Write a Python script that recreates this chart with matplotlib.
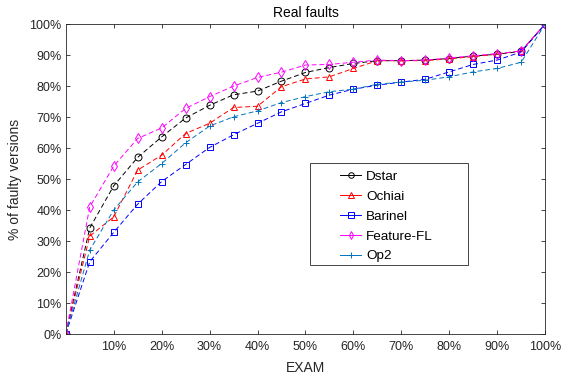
import matplotlib.pyplot as plt
from matplotlib.patches import Rectangle
from matplotlib.ticker import FuncFormatter

# EXAM levels (percent of code examined)
exam = [0, 5, 10, 15, 20, 25, 30, 35, 40, 45, 50, 55, 60, 65, 70, 75, 80, 85, 90, 95, 100]

# % of faulty versions located
dstar = [0, 34.2, 47.8, 57.0, 63.6, 69.7, 73.8, 77.2, 78.4, 81.6, 84.4,
         86.0, 87.3, 88.2, 88.2, 88.4, 88.9, 89.7, 90.3, 91.2, 100]
ochiai = [0, 31.6, 37.8, 52.9, 57.7, 64.7, 68.0, 73.1, 73.5, 79.8, 82.3,
          83.0, 85.7, 88.2, 88.2, 88.2, 88.8, 89.5, 90.3, 91.4, 100]
barinel = [0, 23.3, 32.8, 41.9, 49.2, 54.7, 60.2, 64.3, 68.0, 71.7, 74.4,
           77.1, 79.0, 80.3, 81.3, 82.2, 84.6, 87.0, 88.4, 91.0, 100]
feature_fl = [0, 41.0, 54.2, 63.1, 66.5, 72.8, 76.6, 80.0, 82.8, 84.5, 86.8,
              87.0, 87.7, 88.4, 88.2, 88.4, 89.1, 89.8, 90.5, 91.3, 100]
op2 = [0, 27.1, 40.0, 49.1, 55.0, 61.7, 67.1, 70.1, 72.0, 74.7, 76.6,
       78.2, 79.0, 80.6, 81.3, 81.9, 83.0, 84.6, 85.7, 87.7, 100]

series = [
    ('Dstar', dstar, 'black', 'o'),
    ('Ochiai', ochiai, 'red', '^'),
    ('Barinel', barinel, 'blue', 's'),
    ('Feature-FL', feature_fl, 'magenta', 'd'),
    ('Op2', op2, '#0072BD', '+'),
]

plt.rcParams['font.family'] = 'Liberation Sans'
plt.rcParams['font.size'] = 9

fig = plt.figure(figsize=(5.62, 3.77), dpi=100)
ax = fig.add_axes([0.117, 0.114, 0.853, 0.822])

for name, vals, color, marker in series:
    ax.plot(exam, vals, linestyle='--', dashes=(5, 3), color=color, marker=marker,
            markersize=5, markerfacecolor='none', markeredgewidth=0.7,
            linewidth=0.7, label=name)

ax.set_xlim(0, 100)
ax.set_ylim(0, 100)
ax.set_xticks(range(10, 101, 10))
ax.set_yticks(range(0, 101, 10))
pct = FuncFormatter(lambda v, p: f'{int(v)}%')
ax.xaxis.set_major_formatter(pct)
ax.yaxis.set_major_formatter(pct)
ax.tick_params(direction='in', top=True, right=True, length=3,
               colors='#262626', labelsize=9, width=0.6, pad=3)
ax.tick_params(axis='x', pad=5)
for s in ax.spines.values():
    s.set_color('#262626')
    s.set_linewidth(0.6)

ax.set_title('Real faults', fontsize=10, pad=5)
ax.set_xlabel('EXAM', fontsize=10, color='#262626', labelpad=6)
ax.set_ylabel('% of faulty versions', fontsize=10, color='#262626', labelpad=5)

# legend: MATLAB-style box with wide side padding
leg = ax.legend(loc='upper left', bbox_to_anchor=(0.573, 0.527), borderaxespad=0,
                frameon=False, fontsize=9.7, handlelength=1.5, markerscale=0.8,
                labelspacing=0.55, borderpad=0, handletextpad=0.4)
for h in leg.get_lines():
    h.set_linestyle('-')
ax.add_patch(Rectangle((0.509, 0.223), 0.330, 0.329, transform=ax.transAxes,
                       facecolor='white', edgecolor='#262626', linewidth=0.6,
                       zorder=4))
leg.set_zorder(5)

fig.savefig('out.png', dpi=100)
